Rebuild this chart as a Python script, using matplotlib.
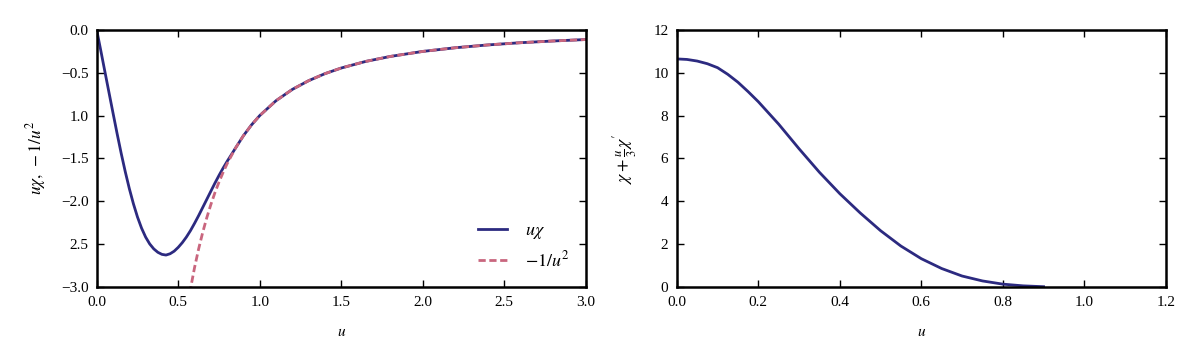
import matplotlib
matplotlib.use('Agg')
import matplotlib.pyplot as plt
import numpy as np

# left panel: u*chi and -1/u^2
u_chi_head = [0.0, 0.025, 0.05, 0.075, 0.10, 0.125, 0.15, 0.175, 0.20, 0.225,
              0.25, 0.275, 0.30, 0.325, 0.35, 0.375, 0.40, 0.425, 0.45, 0.475,
              0.50, 0.525, 0.55, 0.575, 0.60, 0.625, 0.65, 0.675, 0.70, 0.725,
              0.75, 0.775, 0.80, 0.825]
uchi_head = [0.0, -0.24, -0.485, -0.728, -0.97, -1.21, -1.44, -1.655, -1.853, -2.03,
             -2.185, -2.315, -2.42, -2.50, -2.558, -2.598, -2.622, -2.63, -2.615, -2.585,
             -2.54, -2.485, -2.42, -2.345, -2.26, -2.17, -2.075, -1.98, -1.885, -1.79,
             -1.70, -1.615, -1.535, -1.46]

u_inv = [0.57, 0.6, 0.625, 0.65, 0.675, 0.7, 0.725, 0.75, 0.775, 0.8,
         0.85, 0.9, 0.95, 1.0, 1.1, 1.2, 1.3, 1.4, 1.5, 1.65,
         1.8, 2.0, 2.2, 2.4, 2.6, 2.8, 3.0]
inv_u2 = [-3.078, -2.778, -2.56, -2.367, -2.195, -2.041, -1.902, -1.778, -1.665, -1.5625,
          -1.384, -1.235, -1.108, -1.0, -0.826, -0.694, -0.592, -0.510, -0.444, -0.367,
          -0.309, -0.25, -0.207, -0.174, -0.148, -0.128, -0.111]

# right panel: chi + u/3 chi'
u_right = [0.0, 0.025, 0.05, 0.075, 0.10, 0.125, 0.15, 0.175, 0.20, 0.25, 0.30,
           0.35, 0.40, 0.45, 0.50, 0.55, 0.60, 0.65, 0.70, 0.75, 0.80,
           0.85, 0.90]
chi_comb = [10.65, 10.625, 10.55, 10.425, 10.24, 9.93, 9.56, 9.12, 8.65, 7.6, 6.45,
            5.35, 4.35, 3.45, 2.62, 1.9, 1.31, 0.85, 0.5, 0.27, 0.12,
            0.04, 0.0]

left_yticks = [0.0, -0.5, -1.0, -1.5, -2.0, -2.5, -3.0]
left_yticklabels = ['0.0', '\u22120.5', '1.0', '\u22121.5', '\u22122.0', '2.5', '\u22123.0']

plt.rcParams.update({
    'font.family': 'Liberation Serif',
    'mathtext.fontset': 'stix',
    'font.size': 11,
    'axes.linewidth': 1.8,
    'xtick.direction': 'in',
    'ytick.direction': 'in',
    'xtick.top': True,
    'ytick.right': True,
    'xtick.major.size': 5,
    'ytick.major.size': 5,
    'xtick.major.width': 1.0,
    'ytick.major.width': 1.0,
    'xtick.major.pad': 7,
    'ytick.major.pad': 6,
})

blue = '#2c2a80'
pink = '#c9667e'

fig = plt.figure(figsize=(12, 3.61), dpi=100)
ax1 = fig.add_axes([0.0806, 0.2058, 0.4075, 0.711])
ax2 = fig.add_axes([0.564, 0.2058, 0.4075, 0.711])

# u*chi joins -1/u^2 beyond u ~ 0.85
tail = [i for i, u in enumerate(u_inv) if u > 0.83]
u_chi = u_chi_head + [u_inv[i] for i in tail]
uchi = uchi_head + [inv_u2[i] for i in tail]

ax1.plot(u_chi, uchi, color=blue, lw=2.0, label=r'$u\chi$')
ax1.plot(u_inv, inv_u2, color=pink, lw=2.0, ls='--', dashes=(2.6, 1.3), label=r'$-1/u^2$')
ax1.set_xlim(0, 3.0)
ax1.set_ylim(-3.0, 0.0)
ax1.set_xticks(np.arange(0, 3.01, 0.5))
ax1.set_xticklabels(['%.1f' % t for t in np.arange(0, 3.01, 0.5)])
ax1.set_yticks(left_yticks)
ax1.set_yticklabels(left_yticklabels)
ax1.set_xlabel(r'$u$', labelpad=12)
ax1.set_ylabel(r'$u\chi,\, -1/u^2$', labelpad=9, fontsize=12.5)
ax1.legend(loc='lower right', frameon=False, fontsize=13, handlelength=1.6,
           handletextpad=1.0)

ax2.plot(u_right, chi_comb, color=blue, lw=2.0)
ax2.set_xlim(0, 1.2)
ax2.set_ylim(0, 12)
ax2.set_xticks(np.arange(0, 1.21, 0.2))
ax2.set_xticklabels(['%.1f' % t for t in np.arange(0, 1.21, 0.2)])
ax2.set_yticks(range(0, 13, 2))
ax2.set_xlabel(r'$u$', labelpad=12)
ax2.set_ylabel(r"$\chi + \frac{u}{3}\chi'$", labelpad=10, fontsize=13)

fig.savefig('out.png', dpi=100)
